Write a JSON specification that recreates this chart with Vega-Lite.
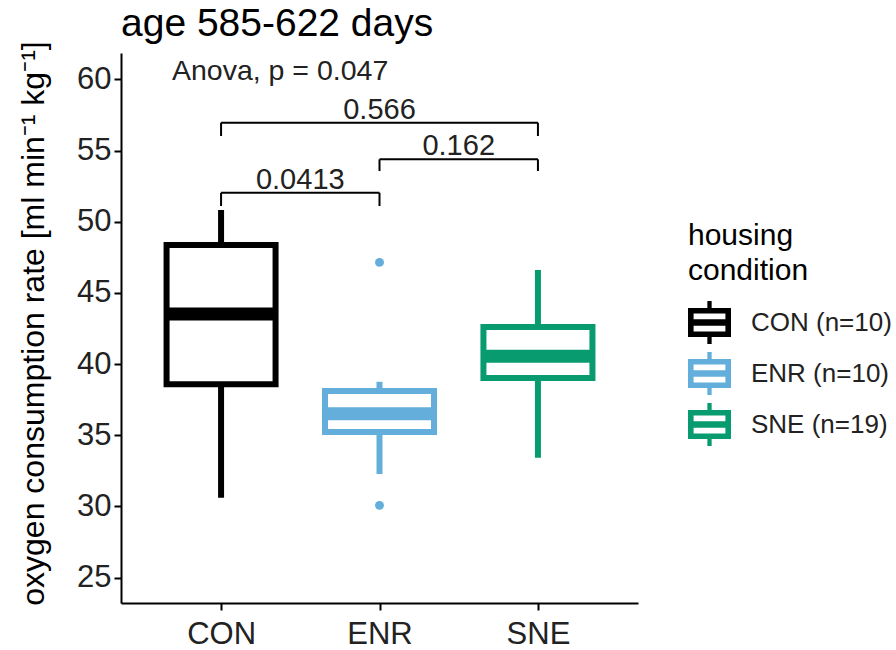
{
  "$schema": "https://vega.github.io/schema/vega-lite/v6.json",
  "width": 517,
  "height": 550,
  "autosize": {"type": "none"},
  "padding": {"left": 121, "top": 53, "right": 258, "bottom": 47},
  "background": "white",
  "config": {
    "view": {"stroke": null},
    "font": "Liberation Sans",
    "axis": {
      "grid": false,
      "domainColor": "#000000",
      "domainWidth": 2,
      "tickColor": "#000000",
      "tickWidth": 2,
      "tickSize": 7,
      "labelFont": "Liberation Sans",
      "labelColor": "#222222",
      "labelFontSize": 31,
      "titleFont": "Liberation Sans",
      "titleFontWeight": "normal",
      "titleColor": "#000000"
    },
    "title": {
      "font": "Liberation Sans",
      "fontSize": 39,
      "fontWeight": "normal",
      "color": "#000000",
      "anchor": "start",
      "frame": "group",
      "offset": 16,
      "dy": 19
    }
  },
  "title": "age 585-622 days",
  "datasets": {
    "boxes": [
      {"group": "CON", "pos": 1, "lower": 30.61, "q1": 38.58, "median": 43.52, "q3": 48.37, "upper": 50.83},
      {"group": "ENR", "pos": 2, "lower": 32.28, "q1": 35.23, "median": 36.51, "q3": 38.11, "upper": 38.76},
      {"group": "SNE", "pos": 3, "lower": 33.42, "q1": 39.02, "median": 40.55, "q3": 42.61, "upper": 46.61}
    ],
    "outliers": [
      {"group": "ENR", "pos": 2, "value": 47.15},
      {"group": "ENR", "pos": 2, "value": 30.08}
    ],
    "brackets": [
      {"x1": 1, "x2": 2, "xm": 1.5, "y": 52.04, "tip": 51.11, "label": "0.0413"},
      {"x1": 2, "x2": 3, "xm": 2.5, "y": 54.39, "tip": 53.57, "label": "0.162"},
      {"x1": 1, "x2": 3, "xm": 2, "y": 56.96, "tip": 56.03, "label": "0.566"}
    ],
    "notes": [
      {"x": 0.69, "y": 59.96, "label": "Anova, p = 0.047"}
    ]
  },
  "encoding": {
    "x": {
      "type": "quantitative",
      "scale": {"domain": [0.4, 3.6], "nice": false, "zero": false},
      "axis": {
        "title": null,
        "values": [1, 2, 3],
        "labelExpr": "datum.value == 1 ? 'CON' : datum.value == 2 ? 'ENR' : 'SNE'",
        "labelPadding": 9
      }
    },
    "y": {
      "type": "quantitative",
      "scale": {"domain": [23.22, 61.86], "nice": false, "zero": false},
      "axis": {
        "title": "oxygen consumption rate [ml min⁻¹ kg⁻¹]",
        "titleFontSize": 32,
        "values": [25, 30, 35, 40, 45, 50, 55, 60],
        "labelPadding": 3,
        "titleX": -88,
        "titleY": 270,
        "titleAlign": "center",
        "titleBaseline": "middle",
        "titleAngle": 270
      }
    }
  },
  "layer": [
    {
      "data": {"name": "boxes"},
      "mark": {"type": "rule", "strokeWidth": 6},
      "encoding": {
        "x": {"field": "pos"},
        "y": {"field": "lower"},
        "y2": {"field": "upper"},
        "color": {
          "field": "group",
          "type": "nominal",
          "scale": {"domain": ["CON", "ENR", "SNE"], "range": ["#000000", "#63aedb", "#079b6f"]},
          "legend": {
            "title": ["housing", "condition"],
            "orient": "none",
            "legendX": 567,
            "legendY": 168,
            "titleFont": "Liberation Sans",
            "titleFontSize": 30,
            "titleFontWeight": "normal",
            "titleColor": "#000000",
            "titleLineHeight": 35,
            "titlePadding": 15,
            "labelFont": "Liberation Sans",
            "labelFontSize": 26,
            "labelColor": "#222222",
            "labelOffset": 20,
            "rowPadding": 8,
            "symbolSize": 1849,
            "symbolType": "M-1,-0.67L1,-0.67L1,0.67L-1,0.67Z M-0.74,-0.42L-0.74,0.42L0.74,0.42L0.74,-0.42Z M-0.74,-0.15L0.74,-0.15L0.74,0.15L-0.74,0.15Z M-0.1,-1L0.1,-1L0.1,-0.67L-0.1,-0.67Z M-0.1,0.67L0.1,0.67L0.1,1L-0.1,1Z",
            "labelExpr": "datum.label == 'CON' ? 'CON (n=10)' : datum.label == 'ENR' ? 'ENR (n=10)' : 'SNE (n=19)'",
            "encode": {
              "symbols": {
                "update": {
                  "fill": {"scale": "color", "field": "value"},
                  "stroke": {"value": "transparent"},
                  "strokeWidth": {"value": 0},
                  "opacity": {"value": 1}
                }
              }
            }
          }
        }
      }
    },
    {
      "data": {"name": "boxes"},
      "mark": {"type": "bar", "fill": "white", "strokeWidth": 6, "size": 109},
      "encoding": {
        "x": {"field": "pos"},
        "y": {"field": "q1"},
        "y2": {"field": "q3"},
        "stroke": {
          "field": "group",
          "type": "nominal",
          "scale": {"domain": ["CON", "ENR", "SNE"], "range": ["#000000", "#63aedb", "#079b6f"]},
          "legend": null
        }
      }
    },
    {
      "data": {"name": "boxes"},
      "mark": {"type": "tick", "orient": "horizontal", "size": 112, "thickness": 13, "opacity": 1},
      "encoding": {
        "x": {"field": "pos"},
        "y": {"field": "median"},
        "color": {"field": "group", "type": "nominal"}
      }
    },
    {
      "data": {"name": "outliers"},
      "mark": {"type": "circle", "size": 80, "opacity": 1},
      "encoding": {
        "x": {"field": "pos"},
        "y": {"field": "value"},
        "color": {"field": "group", "type": "nominal"}
      }
    },
    {
      "data": {"name": "brackets"},
      "mark": {"type": "rule", "strokeWidth": 2, "color": "#000000"},
      "encoding": {
        "x": {"field": "x1"},
        "x2": {"field": "x2"},
        "y": {"field": "y"}
      }
    },
    {
      "data": {"name": "brackets"},
      "mark": {"type": "rule", "strokeWidth": 2, "color": "#000000"},
      "encoding": {
        "x": {"field": "x1"},
        "y": {"field": "y"},
        "y2": {"field": "tip"}
      }
    },
    {
      "data": {"name": "brackets"},
      "mark": {"type": "rule", "strokeWidth": 2, "color": "#000000"},
      "encoding": {
        "x": {"field": "x2"},
        "y": {"field": "y"},
        "y2": {"field": "tip"}
      }
    },
    {
      "data": {"name": "brackets"},
      "mark": {"type": "text", "fontSize": 29, "baseline": "alphabetic", "dy": -4, "color": "#222222", "font": "Liberation Sans"},
      "encoding": {
        "x": {"field": "xm"},
        "y": {"field": "y"},
        "text": {"field": "label"}
      }
    },
    {
      "data": {"name": "notes"},
      "mark": {"type": "text", "fontSize": 28.5, "baseline": "alphabetic", "align": "left", "color": "#222222", "font": "Liberation Sans"},
      "encoding": {
        "x": {"field": "x"},
        "y": {"field": "y"},
        "text": {"field": "label"}
      }
    }
  ]
}
